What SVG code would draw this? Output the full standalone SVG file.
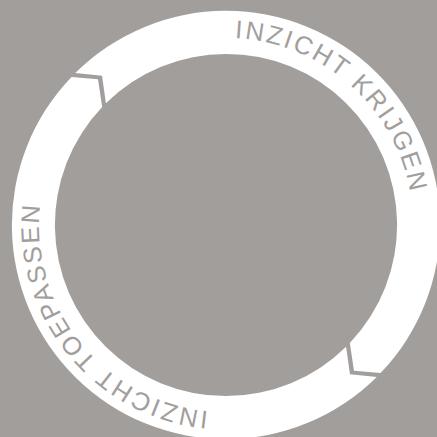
<svg xmlns="http://www.w3.org/2000/svg" width="437" height="437" viewBox="0 0 437 437">
  <style>
    .seg { fill: #ffffff; }
    .lbl { font-family: "Liberation Sans", Arial, Helvetica, sans-serif; font-size: 25.5px; fill: #a29e9c; }
  </style>
  <defs>
    <path id="textCircle" d="M319.5,386.95 A187,187 0 1 1 132.5,63.05 A187,187 0 1 1 319.5,386.95"/>
  </defs>
  <rect x="0" y="0" width="437" height="437" fill="#a29e9c"/>
  <g id="step-inzicht-krijgen">
    <path class="seg" d="M75.23,73.12 A214,214 0 0 1 380.48,373.09 L353.99,370.79 L349.81,342.95 A171,171 0 0 0 105.91,103.26 L102.03,75.78 Z"/>
    <text class="lbl" letter-spacing="2.4"><textPath href="#textCircle" startOffset="694.2">INZICHT KRIJGEN</textPath></text>
  </g>
  <g id="step-inzicht-toepassen">
    <path class="seg" d="M376.77,376.88 A214,214 0 0 1 71.52,76.91 L98.01,79.21 L102.19,107.05 A171,171 0 0 0 346.09,346.74 L349.97,374.22 Z"/>
    <text class="lbl" letter-spacing="2.2"><textPath href="#textCircle" startOffset="115.5">INZICHT TOEPASSEN</textPath></text>
  </g>
</svg>
